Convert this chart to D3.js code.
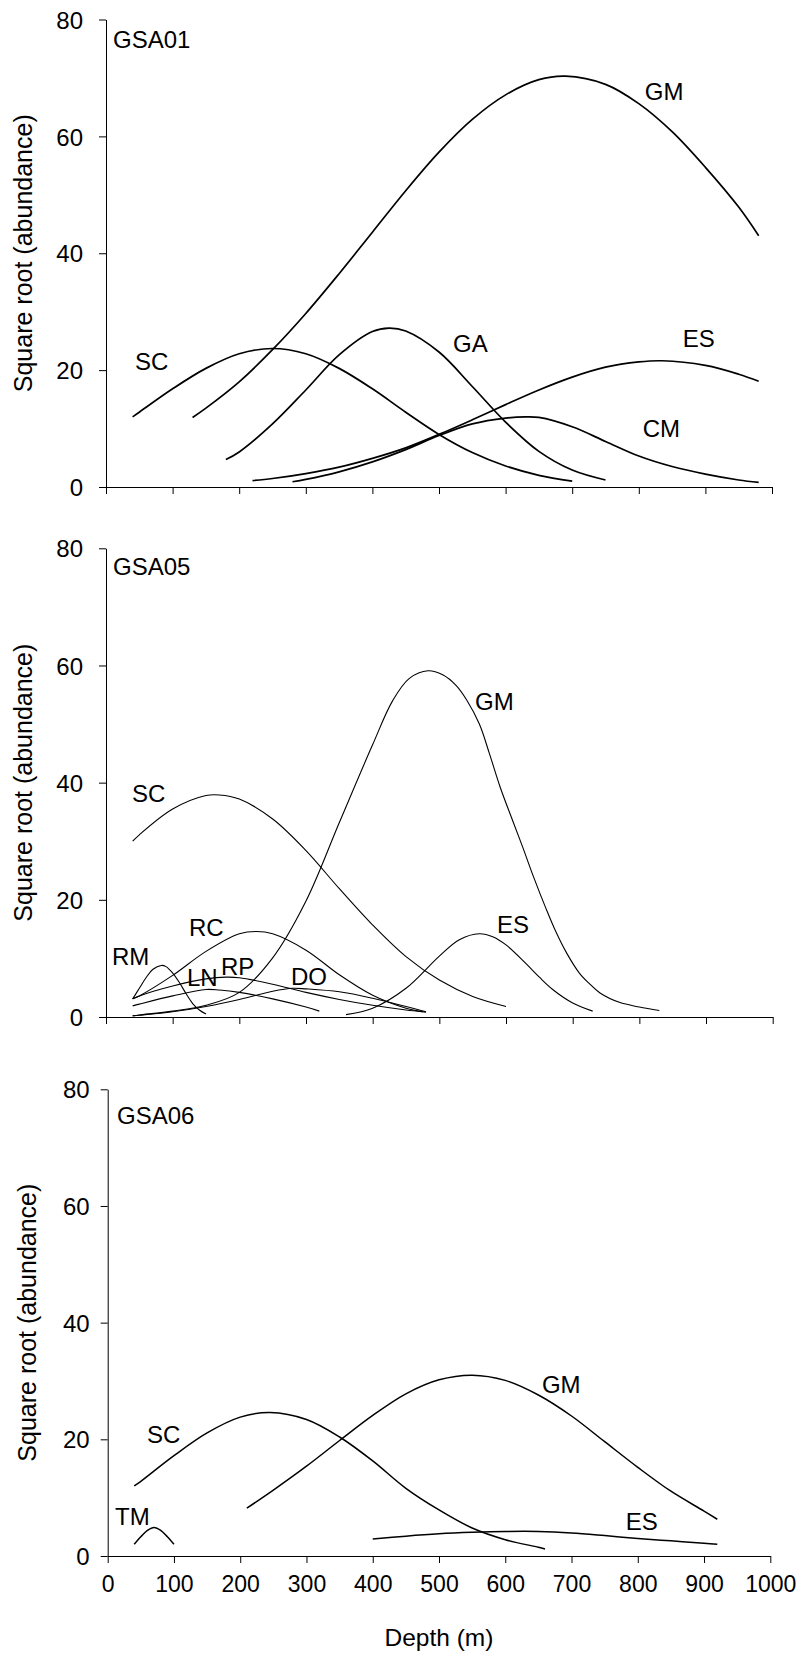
<!DOCTYPE html>
<html>
<head>
<meta charset="utf-8">
<script src="https://cdn.jsdelivr.net/npm/d3@7"></script>
<style>
  html, body { margin: 0; padding: 0; background: #fff; }
  svg { display: block; }
  text { font-family: Arial, "Liberation Sans", sans-serif; fill: #000; }
</style>
</head>
<body>
<svg id="chart" width="800" height="1655"></svg>
<script>
// ---------------- DATA ----------------
const yTicks = [0, 20, 40, 60, 80];
const xTicks = [0, 100, 200, 300, 400, 500, 600, 700, 800, 900, 1000];
const xTitle = "Depth (m)";
const yTitle = "Square root (abundance)";

// GSA01 series: [depth, sqrt abundance]
const gsa01_GM = [[130,11.9],[150,13.5],[200,18.0],[250,23.5],[300,29.7],[350,36.5],[400,43.6],[450,50.7],[500,57.3],[550,62.9],[600,67.1],[650,69.7],[690,70.3],[750,68.9],[800,65.6],[850,60.8],[900,54.7],[950,47.9],[980,43.0]];
const gsa01_SC = [[40,12.0],[50,12.8],[100,16.8],[150,20.3],[200,22.8],[250,23.7],[300,22.8],[350,20.3],[400,16.8],[450,12.8],[500,9.0],[550,5.9],[600,3.6],[650,2.0],[700,1.0]];
const gsa01_GA = [[180,4.7],[200,6.0],[250,10.8],[300,16.6],[350,22.6],[400,26.6],[425,27.2],[450,26.7],[500,23.1],[550,17.2],[600,11.1],[650,6.1],[700,2.9],[750,1.2]];
const gsa01_ES = [[220,1.1],[250,1.45],[300,2.3],[350,3.4],[400,4.9],[450,6.7],[500,9.0],[550,11.5],[600,14.1],[650,16.6],[700,18.8],[750,20.5],[800,21.4],[835,21.6],[900,20.8],[950,19.3],[980,18.1]];
const gsa01_CM = [[280,0.9],[300,1.3],[350,2.6],[400,4.3],[450,6.4],[500,8.8],[550,10.8],[600,11.8],[630,12.0],[650,11.9],[700,10.3],[750,7.8],[800,5.3],[850,3.5],[900,2.2],[950,1.2],[980,0.8]];

// GSA05 series
const gsa05_SC = [[40,30.0],[50,31.1],[100,35.5],[150,37.8],[170,37.9],[200,37.2],[250,33.8],[300,28.4],[350,21.9],[400,15.7],[450,10.3],[500,6.3],[550,3.5],[600,1.8]];
const gsa05_GM = [[40,0.2],[50,0.35],[100,1.0],[150,2.0],[200,4.2],[250,10.1],[300,19.8],[350,33.2],[400,46.5],[430,54.0],[455,57.8],[483,59.1],[505,58.4],[525,56.6],[541,54.1],[560,50.0],[575,45.0],[591,39.3],[610,33.5],[625,29.0],[641,24.0],[660,18.5],[675,14.5],[691,10.9],[710,7.5],[725,5.7],[741,4.1],[770,2.5],[800,1.7],[830,1.1]];
const gsa05_RM = [[40,3.1],[50,4.9],[60,6.7],[70,8.1],[83,8.8],[90,8.6],[100,7.5],[110,5.9],[120,4.0],[130,2.3],[140,1.2],[150,0.5]];
const gsa05_RC = [[40,3.1],[50,3.6],[100,7.1],[150,11.2],[200,14.2],[226,14.6],[250,14.2],[300,11.4],[350,7.2],[400,3.7],[450,1.5],[480,0.8]];
const gsa05_RP = [[40,3.1],[50,3.6],[100,5.3],[150,6.5],[180,6.8],[200,6.7],[250,5.6],[300,4.2],[350,3.0],[400,2.0],[450,1.2],[475,0.9]];
const gsa05_LN = [[40,1.9],[50,2.2],[100,3.6],[150,4.7],[170,4.6],[200,4.2],[250,3.1],[300,1.7],[320,1.0]];
const gsa05_DO = [[40,0.2],[50,0.3],[100,0.9],[150,1.8],[200,3.0],[250,4.4],[280,4.9],[300,4.8],[350,4.3],[400,3.2],[450,1.8],[480,0.9]];
const gsa05_ES = [[360,0.4],[400,1.5],[450,4.9],[500,10.4],[530,13.2],[560,14.2],[580,13.7],[600,12.3],[630,9.1],[650,6.8],[670,4.7],[700,2.4],[730,1.0]];

// GSA06 series
const gsa06_SC = [[40,12.0],[50,12.8],[100,17.2],[150,21.1],[200,23.8],[245,24.6],[300,23.4],[350,20.4],[400,16.3],[450,11.6],[500,7.9],[550,4.8],[600,2.8],[650,1.5],[660,1.2]];
const gsa06_GM = [[210,8.2],[250,11.3],[300,15.4],[350,19.8],[400,24.1],[450,27.8],[500,30.2],[550,31.0],[600,30.1],[650,27.6],[700,24.0],[750,19.6],[800,15.2],[850,11.1],[900,7.7],[920,6.3]];
const gsa06_ES = [[400,2.9],[450,3.4],[500,3.8],[550,4.05],[600,4.2],[650,4.2],[700,3.95],[750,3.5],[800,3.0],[850,2.6],[900,2.2],[920,2.0]];
const gsa06_TM = [[40,2.0],[50,3.3],[60,4.4],[70,4.9],[80,4.4],[90,3.3],[100,2.0]];

// Text labels, anchored in data units [text, depth, value]
const gsa01_labels = [["GSA01",10.5,75.1],["GM",809,66.2],["SC",43.5,20.0],["GA",521,23.1],["ES",866,24.0],["CM",806,8.6]];
const gsa05_labels = [["GSA05",10.5,75.4],["SC",39,36.7],["GM",553.5,52.4],["ES",586.5,14.3],["RC",124.5,13.8],["RM",9,8.9],["LN",121.5,5.3],["RP",172.5,7.2],["DO",277.5,5.5]];
const gsa06_labels = [["GSA06",14,74.0],["SC",59.3,19.4],["TM",11,5.3],["GM",655.4,27.9],["ES",782,4.5]];

// ---------------- LAYOUT ----------------
const panels = [
  { series: [gsa01_GM, gsa01_SC, gsa01_GA, gsa01_ES, gsa01_CM], labels: gsa01_labels,
    xr: [106, 772], yr: [487, 19.5], sw: 1.7, tickLabels: false, pad: 16, titleX: 23 },
  { series: [gsa05_SC, gsa05_GM, gsa05_RM, gsa05_RC, gsa05_RP, gsa05_LN, gsa05_DO, gsa05_ES], labels: gsa05_labels,
    xr: [106, 772.7], yr: [1017, 548.3], sw: 1.1, tickLabels: false, pad: 16, titleX: 23 },
  { series: [gsa06_SC, gsa06_GM, gsa06_ES, gsa06_TM], labels: gsa06_labels,
    xr: [107.7, 770.3], yr: [1556, 1089.3], sw: 1.5, tickLabels: true, pad: 11, titleX: 27 }
];

const svg = d3.select("#chart");
svg.append("rect").attr("width", 800).attr("height", 1655).attr("fill", "#fff");

panels.forEach(p => {
  const x = d3.scaleLinear().domain([0, 1000]).range(p.xr);
  const y = d3.scaleLinear().domain([0, 80]).range(p.yr);
  const g = svg.append("g");

  // Y axis
  const ya = g.append("g").attr("transform", `translate(${p.xr[0]},0)`)
    .call(d3.axisLeft(y).tickValues(yTicks).tickSize(7).tickSizeOuter(0).tickPadding(p.pad));
  ya.selectAll("text").style("font-size", "24px").attr("dy", "0.36em");

  // X axis
  const xa = g.append("g").attr("transform", `translate(0,${p.yr[0]})`)
    .call(d3.axisBottom(x).tickValues(xTicks).tickSize(7).tickSizeOuter(0)
      .tickPadding(13).tickFormat(p.tickLabels ? d3.format("d") : ""));
  xa.selectAll("text").style("font-size", "23px");

  g.selectAll(".domain, .tick line").attr("stroke", "#000").attr("stroke-width", 1);

  // Y title
  g.append("text")
    .attr("transform", `translate(${p.titleX},${(p.yr[0] + p.yr[1]) / 2}) rotate(-90)`)
    .attr("text-anchor", "middle").attr("dy", "0.35em")
    .style("font-size", "25px").text(yTitle);

  // Curves
  const line = d3.line().x(d => x(d[0])).y(d => y(d[1])).curve(d3.curveCatmullRom.alpha(0.5));
  g.selectAll("path.curve").data(p.series).enter().append("path")
    .attr("class", "curve").attr("d", line)
    .attr("fill", "none").attr("stroke", "#000").attr("stroke-width", p.sw);

  // Labels
  g.selectAll("text.lab").data(p.labels).enter().append("text")
    .attr("class", "lab").attr("x", d => x(d[1])).attr("y", d => y(d[2]))
    .style("font-size", "24px").text(d => d[0]);

  if (p.tickLabels) {
    g.append("text").attr("x", (p.xr[0] + p.xr[1]) / 2).attr("y", 1646)
      .attr("text-anchor", "middle").style("font-size", "24.5px").text(xTitle);
  }
});
</script>
</body>
</html>
